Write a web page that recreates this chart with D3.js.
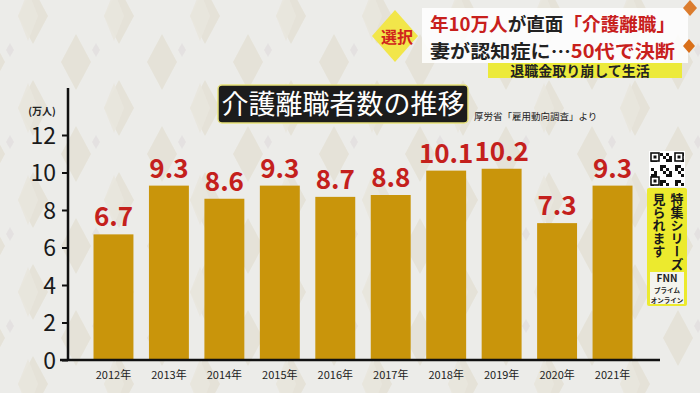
<!DOCTYPE html>
<html><head><meta charset="utf-8">
<script src="https://cdn.jsdelivr.net/npm/d3@7/dist/d3.min.js"></script>
<style>
html,body{margin:0;padding:0;background:#ecece9;}
svg{display:block;}
text{font-family:"Noto Sans CJK JP","Noto Sans",sans-serif;}
</style></head>
<body>
<svg id="c" width="700" height="393"></svg>
<script>
const years = ["2012年","2013年","2014年","2015年","2016年","2017年","2018年","2019年","2020年","2021年"];
const values = [6.7, 9.3, 8.6, 9.3, 8.7, 8.8, 10.1, 10.2, 7.3, 9.3];
const yTicks = [0, 2, 4, 6, 8, 10, 12];
const title = "介護離職者数の推移";
const source = "厚労省「雇用動向調査」より";
const unit = "(万人)";

const svg = d3.select("#c");
const W = 700, H = 393;

// background with faint diamond pattern
const defs = svg.append("defs");
const pat = defs.append("pattern").attr("id","dia").attr("patternUnits","userSpaceOnUse")
  .attr("width",86).attr("height",92).attr("x",-10).attr("y",-30);
pat.append("rect").attr("width",86).attr("height",92).attr("fill","#ecece9");
function dia(g,cx,cy,w,h,fill,op){
  g.append("path").attr("d",`M${cx},${cy-h/2}L${cx+w/2},${cy}L${cx},${cy+h/2}L${cx-w/2},${cy}Z`)
   .attr("fill",fill).attr("opacity",op);
}
dia(pat,43,46,30,56,"#e5e2d6",0.9);
dia(pat,38,46,20,50,"#e9e7de",0.9);
dia(pat,0,0,30,56,"#e5e2d6",0.9);
dia(pat,86,0,30,56,"#e5e2d6",0.9);
dia(pat,0,92,30,56,"#e5e2d6",0.9);
dia(pat,86,92,30,56,"#e5e2d6",0.9);
dia(pat,20,80,8,14,"#e2dede",0.8);
svg.append("rect").attr("width",W).attr("height",H).attr("fill","url(#dia)");

// scales
const x = d3.scaleBand().domain(years).range([68, 658]).paddingInner(0.28).paddingOuter(0.46);
const y = d3.scaleLinear().domain([0, 12]).range([360, 135]);

// bars
svg.append("g").selectAll("rect").data(values).join("rect")
  .attr("x",(d,i)=>x(years[i])).attr("width",x.bandwidth())
  .attr("y",d=>y(d)).attr("height",d=>y(0)-y(d))
  .attr("fill","#c9950b");

// value labels
svg.append("g").selectAll("text").data(values).join("text")
  .attr("x",(d,i)=>x(years[i])+x.bandwidth()/2)
  .attr("y",d=>y(d)-8)
  .attr("text-anchor","middle")
  .attr("font-family","'Noto Sans',sans-serif")
  .attr("font-weight","bold").attr("font-size",26)
  .attr("fill","#c4201c")
  .text(d=>d.toFixed(1));

// y axis
const yAxis = d3.axisLeft(y).tickValues(yTicks).tickSize(6).tickPadding(6).tickFormat(d3.format("d"));
const gy = svg.append("g").attr("transform","translate(68,0)").call(yAxis);
gy.select(".domain").attr("d","M0,88V361").attr("stroke","#111").attr("stroke-width",2.5);
gy.selectAll(".tick line").attr("stroke","#111").attr("stroke-width",2);
gy.selectAll(".tick text").attr("font-size",23).attr("fill","#1a1a1a")
  .attr("font-family","'Noto Sans',sans-serif").attr("dy","0.35em");

// x axis
const xAxis = d3.axisBottom(x).tickSize(0).tickPadding(11);
const gx = svg.append("g").attr("transform","translate(0,360)").call(xAxis);
gx.select(".domain").attr("d","M60,0H660").attr("stroke","#111").attr("stroke-width",2.5);
gx.selectAll(".tick text").attr("font-size",11).attr("fill","#222")
  .attr("font-family","'Noto Sans CJK JP',sans-serif");

// unit
svg.append("text").attr("x",42).attr("y",115).attr("text-anchor","middle")
  .attr("font-size",10).attr("fill","#222").attr("font-weight","bold").text(unit);

// title box
svg.append("rect").attr("x",218).attr("y",85).attr("width",250).attr("height",38).attr("rx",4)
  .attr("fill","#1c1c1c").attr("stroke","#e8e27a").attr("stroke-width",1.5);
svg.append("text").attr("x",343).attr("y",114).attr("text-anchor","middle")
  .attr("font-size",27).attr("fill","#fff").text(title);
svg.append("text").attr("x",474).attr("y",120).attr("font-size",9.5).attr("fill","#222").text(source);

// header
svg.append("rect").attr("x",422).attr("y",8).attr("width",266).attr("height",55)
  .attr("fill","#ffffff").attr("opacity",0.85);
dia(svg,395,36,46,52,"#f2e64a",1);
svg.append("text").attr("x",397).attr("y",43).attr("text-anchor","middle")
  .attr("font-size",16).attr("font-weight","bold").attr("fill","#d0241c").text("選択");
const h1 = svg.append("text").attr("x",430).attr("y",31).attr("font-size",18.5).attr("font-weight","bold")
  .attr("textLength",245).attr("lengthAdjust","spacingAndGlyphs");
h1.append("tspan").attr("fill","#c8201c").text("年10万人");
h1.append("tspan").attr("fill","#222").text("が直面");
h1.append("tspan").attr("fill","#c8201c").text("「介護離職」");
const h2 = svg.append("text").attr("x",430).attr("y",57.8).attr("font-size",18.5).attr("font-weight","bold")
  .attr("textLength",245).attr("lengthAdjust","spacingAndGlyphs");
h2.append("tspan").attr("fill","#222").text("妻が認知症に…");
h2.append("tspan").attr("fill","#c8201c").text("50代で決断");
svg.append("rect").attr("x",488).attr("y",63).attr("width",194).attr("height",15).attr("fill","#ecea3a");
svg.append("text").attr("x",580).attr("y",76).attr("text-anchor","middle")
  .attr("font-size",14).attr("font-weight","bold").attr("fill","#222").text("退職金取り崩して生活");
dia(svg,689,46,12,14,"#d9701a",1);
dia(svg,690,8,14,16,"#d9701a",0.9);

// QR + promo box
svg.append("rect").attr("x",649).attr("y",151).attr("width",36).attr("height",36).attr("fill","#fff");
const qr = svg.append("g");
for(let i=0;i<11;i++)for(let j=0;j<11;j++){
  if(((i*7+j*13+i*j)%5)<2) qr.append("rect").attr("x",651+i*3).attr("y",153+j*3).attr("width",3).attr("height",3).attr("fill","#111");
}
[[651,153],[675,153],[651,177]].forEach(([a,b])=>{
  qr.append("rect").attr("x",a).attr("y",b).attr("width",8).attr("height",8).attr("fill","#fff").attr("stroke","#111").attr("stroke-width",1.6);
  qr.append("rect").attr("x",a+2.5).attr("y",b+2.5).attr("width",3).attr("height",3).attr("fill","#111");
});
svg.append("rect").attr("x",647).attr("y",188).attr("width",40).attr("height",118).attr("rx",2).attr("fill","#ecea2e");
svg.append("text").attr("x",677).attr("y",193).attr("font-size",13).attr("font-weight","bold").attr("fill","#1a1a1a")
  .style("writing-mode","vertical-rl").text("特集シリーズ");
svg.append("text").attr("x",659).attr("y",193).attr("font-size",13).attr("font-weight","bold").attr("fill","#1a1a1a")
  .style("writing-mode","vertical-rl").text("見られます");
svg.append("rect").attr("x",650).attr("y",272).attr("width",34).attr("height",32).attr("fill","#f4f4ee");
svg.append("text").attr("x",667).attr("y",282).attr("text-anchor","middle").attr("font-size",10)
  .attr("font-family","'Noto Sans',sans-serif")
  .attr("font-weight","bold").attr("fill","#222").text("FNN");
svg.append("text").attr("x",667).attr("y",293).attr("text-anchor","middle").attr("font-size",6.5)
  .attr("font-weight","bold").attr("fill","#222").text("プライム");
svg.append("text").attr("x",667).attr("y",302.5).attr("text-anchor","middle").attr("font-size",6.5)
  .attr("font-weight","bold").attr("fill","#222").text("オンライン");
</script>
</body></html>
